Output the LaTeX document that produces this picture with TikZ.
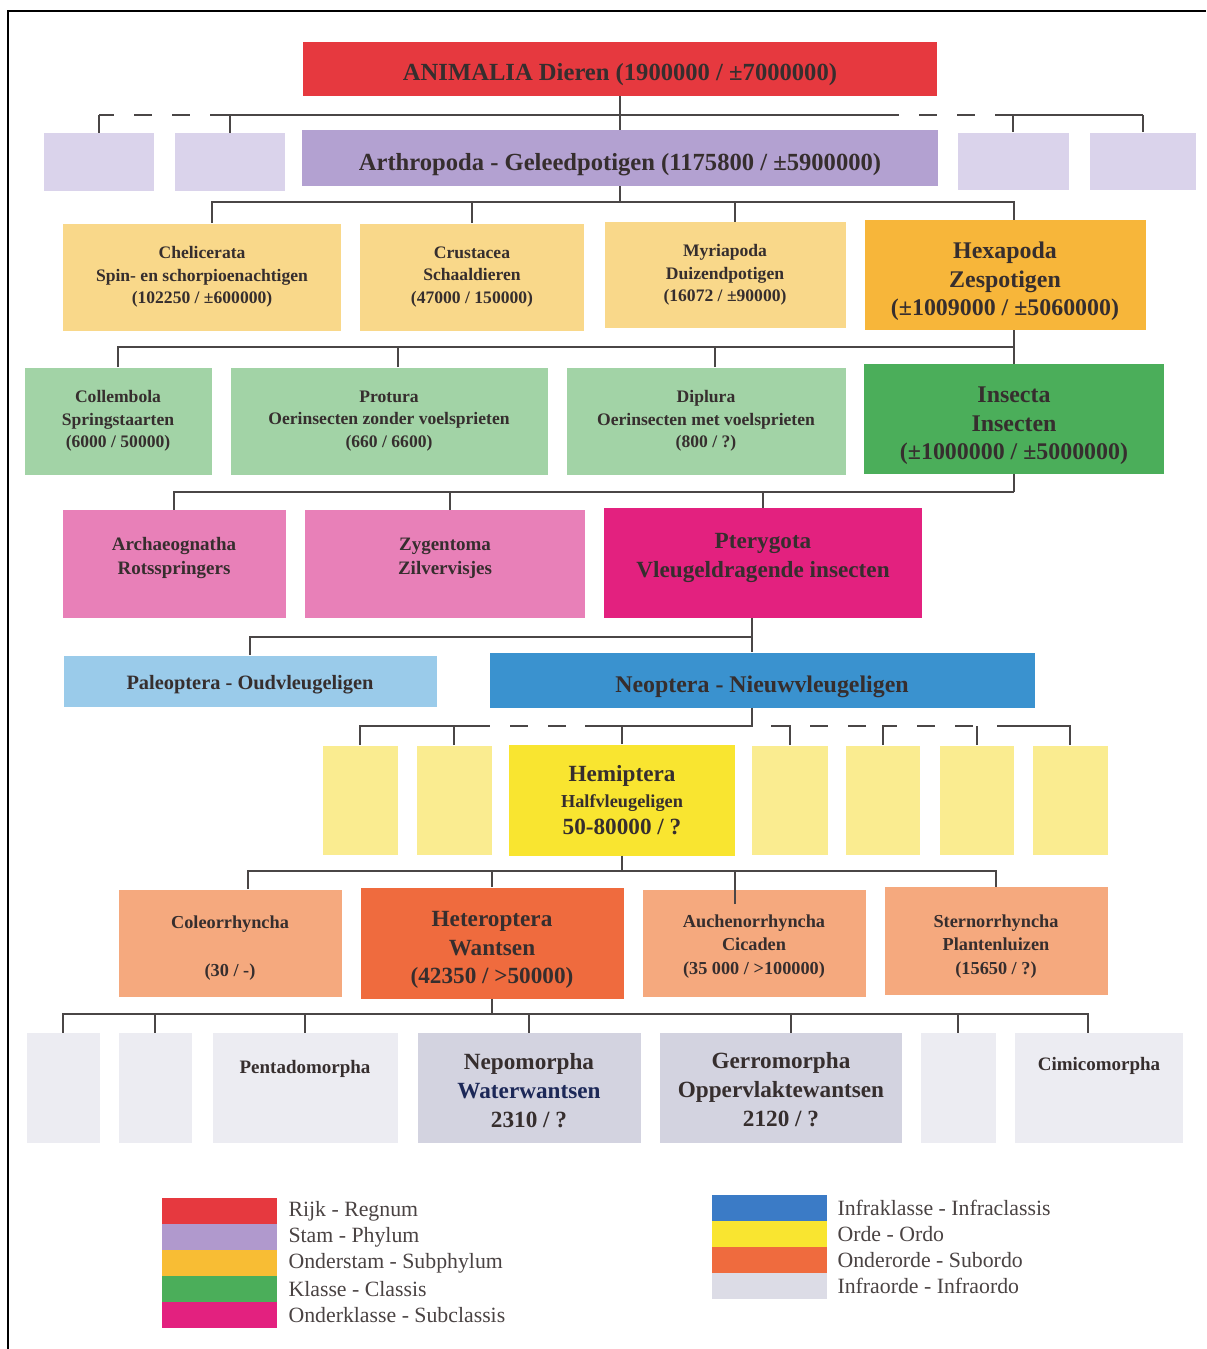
\documentclass[tikz,border=0pt]{standalone}
\usepackage{fontspec}
\setmainfont{Liberation Serif}
\usepackage{xcolor}
\usepackage{tikz}
\usetikzlibrary{positioning, calc}

\definecolor{ink}{HTML}{362E2E}
\definecolor{navy}{HTML}{1C2858}
\definecolor{wire}{HTML}{4A4646}
\definecolor{regnum}{HTML}{E6393F}
\definecolor{phylum}{HTML}{B3A1D1}
\definecolor{phylumL}{HTML}{DAD3EB}
\definecolor{subphylum}{HTML}{F7B63A}
\definecolor{subphylumL}{HTML}{F9D88A}
\definecolor{classis}{HTML}{4BAE5A}
\definecolor{classisL}{HTML}{A2D3A6}
\definecolor{subclassis}{HTML}{E3217F}
\definecolor{subclassisL}{HTML}{E880B8}
\definecolor{infraclassis}{HTML}{3A92CF}
\definecolor{infraclassisL}{HTML}{9ACBEA}
\definecolor{legblue}{HTML}{3B7BC6}
\definecolor{ordo}{HTML}{F9E530}
\definecolor{ordoL}{HTML}{FAEC90}
\definecolor{subordo}{HTML}{EF6B3E}
\definecolor{subordoL}{HTML}{F5A97E}
\definecolor{infraordo}{HTML}{D3D3E0}
\definecolor{infraordoL}{HTML}{ECECF2}

\newcommand{\fs}[2]{\fontsize{#1pt}{#2pt}\selectfont\bfseries}

\begin{document}
\begin{tikzpicture}[
  x=0.025cm, y=-0.025cm,
  taxon/.style={align=center, inner sep=0pt, text=ink},
  dims/.style 2 args={minimum width=#1*0.025cm, minimum height=#2*0.025cm},
  sink/.style={text height=#1, text depth=0pt},
  lift/.style={text depth=#1},
  small/.style={font=\fs{12.5}{16}},
  mid/.style={font=\fs{13.5}{17}},
  big/.style={font=\fs{17}{20.3}},
  link/.style={draw=wire, line width=1.4pt},
  broken/.style={dash pattern=on 0.45cm off 0.5cm, dash phase=0.45cm},
  swatch/.style={inner sep=0pt, dims={115}{26.6}},
  legtext/.style={inner sep=0pt, text=ink!90, font=\fontsize{15.5}{18}\selectfont},
]
  \useasboundingbox (0,0) rectangle (1206,1349);
  \fill[white] (0,0) rectangle (1206,1349);
  \draw[line width=1.4pt] (8,1349) -- (8,11) -- (1206,11);

  % regnum
  \node[taxon, sink=15.9pt, dims={634}{54}, fill=regnum, font=\fs{17.5}{21}] (animalia) at (620,69) {ANIMALIA Dieren (1900000 / ±7000000)};

  % phyla
  \node[taxon, dims={110}{58}, fill=phylumL] (ph1) at (99,162) {};
  \node[taxon, dims={110}{58}, fill=phylumL] (ph2) at (230,162) {};
  \node[taxon, sink=17.4pt, dims={636}{56}, fill=phylum, font=\fs{17.5}{20}] (arth) at (620,158) {Arthropoda - Geleedpotigen (1175800 / ±5900000)};
  \node[taxon, dims={111}{57}, fill=phylumL] (ph4) at (1013,161) {};
  \node[taxon, dims={106}{57}, fill=phylumL] (ph5) at (1143,161) {};

  % subphyla
  \node[taxon, small, dims={278}{107}, fill=subphylumL] (chel) at (202,277) {Chelicerata\\Spin- en schorpioenachtigen\\(102250 / ±600000)};
  \node[taxon, small, dims={224}{107}, fill=subphylumL] (crus) at (472,277) {Crustacea\\Schaaldieren\\(47000 / 150000)};
  \node[taxon, small, dims={241}{106}, fill=subphylumL] (myri) at (725,275) {Myriapoda\\Duizendpotigen\\(16072 / ±90000)};
  \node[taxon, big, sink=58.3pt, dims={281}{110}, fill=subphylum] (hexa) at (1005,275) {Hexapoda\\Zespotigen\\(±1009000 / ±5060000)};

  % classes
  \node[taxon, small, dims={187}{107}, fill=classisL] (coll) at (118,421) {Collembola\\Springstaarten\\(6000 / 50000)};
  \node[taxon, small, dims={317}{107}, fill=classisL] (prot) at (389,421) {Protura\\Oerinsecten zonder voelsprieten\\(660 / 6600)};
  \node[taxon, small, dims={279}{107}, fill=classisL] (dipl) at (706,421) {Diplura\\Oerinsecten met voelsprieten\\(800 / ?)};
  \node[taxon, big, sink=58.3pt, dims={300}{110}, fill=classis] (insc) at (1014,419) {Insecta\\Insecten\\(±1000000 / ±5000000)};

  % subclasses
  \node[taxon, mid, lift=11.5pt, dims={223}{108}, fill=subclassisL] (arch) at (174,564) {Archaeognatha\\Rotsspringers};
  \node[taxon, mid, lift=11.5pt, dims={280}{108}, fill=subclassisL] (zyge) at (445,564) {Zygentoma\\Zilvervisjes};
  \node[taxon, lift=10.8pt, font=\fs{16.5}{20.6}, dims={318}{110}, fill=subclassis] (pter) at (763,563) {Pterygota\\Vleugeldragende insecten};

  % infraclasses
  \node[taxon, sink=12.4pt, font=\fs{14.5}{17}, dims={373}{51}, fill=infraclassisL] (pale) at (250,681) {Paleoptera - Oudvleugeligen};
  \node[taxon, sink=17.1pt, font=\fs{17}{20}, dims={545}{55}, fill=infraclassis] (neop) at (762,680) {Neoptera - Nieuwvleugeligen};

  % orders
  \node[taxon, dims={75}{109}, fill=ordoL] (o1) at (360,800) {};
  \node[taxon, dims={75}{109}, fill=ordoL] (o2) at (454,800) {};
  \node[taxon, font=\fs{16.5}{18.9}, dims={226}{111}, fill=ordo] (hemi) at (622,800) {Hemiptera\\{\fs{13}{18.9}Halfvleugeligen}\\50-80000 / ?};
  \node[taxon, dims={76}{109}, fill=ordoL] (o3) at (790,800) {};
  \node[taxon, dims={74}{109}, fill=ordoL] (o4) at (883,800) {};
  \node[taxon, dims={74}{109}, fill=ordoL] (o5) at (977,800) {};
  \node[taxon, dims={75}{109}, fill=ordoL] (o6) at (1070,800) {};

  % suborders
  \node[taxon, sink=47pt, font=\fs{13}{17}, dims={223}{107}, fill=subordoL] (cole) at (230,943) {Coleorrhyncha\\~\\(30 / -)};
  \node[taxon, sink=57.9pt, font=\fs{16.5}{20.3}, dims={263}{111}, fill=subordo] (hete) at (492,943) {Heteroptera\\Wantsen\\(42350 / >50000)};
  \node[taxon, sink=44.1pt, font=\fs{13}{16.7}, dims={223}{107}, fill=subordoL] (auch) at (754,943) {Auchenorrhyncha\\Cicaden\\(35 000 / >100000)};
  \node[taxon, sink=47pt, font=\fs{13}{16.7}, dims={223}{108}, fill=subordoL] (ster) at (996,941) {Sternorrhyncha\\Plantenluizen\\(15650 / ?)};

  % infraorders
  \node[taxon, dims={73}{110}, fill=infraordoL] (i1) at (63,1088) {};
  \node[taxon, dims={73}{110}, fill=infraordoL] (i2) at (155,1088) {};
  \node[taxon, text height=0pt, lift=20.9pt, font=\fs{13.5}{17}, dims={185}{110}, fill=infraordoL] (pent) at (305,1088) {Pentadomorpha};
  \node[taxon, sink=56.5pt, font=\fs{16.5}{20.6}, dims={223}{110}, fill=infraordo] (nepo) at (529,1088) {Nepomorpha\\{\color{navy}Waterwantsen}\\2310 / ?};
  \node[taxon, sink=55pt, font=\fs{16.5}{20.6}, dims={242}{110}, fill=infraordo] (gerr) at (781,1088) {Gerromorpha\\Oppervlaktewantsen\\2120 / ?};
  \node[taxon, dims={75}{110}, fill=infraordoL] (i3) at (958,1088) {};
  \node[taxon, text height=0pt, lift=25.2pt, font=\fs{13.5}{17}, dims={168}{110}, fill=infraordoL] (cimi) at (1099,1088) {Cimicomorpha};

  % tree lines
  \coordinate (abus) at (620,115);
  \coordinate (abusL) at (210,115);
  \coordinate (abusR) at (899,115);
  \coordinate (abusR2) at (996,115);
  \draw[link] (animalia) -- (abus);
  \draw[link, broken] (abusL) -- (abus -| ph1.north);
  \draw[link] (abusL) -- (abusR);
  \draw[link, broken] (abusR) -- (abusR2);
  \draw[link] (abusR2) -- (abus -| ph5.north);
  \draw[link] (ph1.north) -- (abus -| ph1.north) (ph2.north) -- (abus -| ph2.north)
    (arth.north) -- (abus) (ph4.north) -- (abus -| ph4.north) (ph5.north) -- (abus -| ph5.north);

  \coordinate (pbus) at (620,202);
  \draw[link] (arth) -- (pbus);
  \draw[link] ([xshift=0.25cm]chel.north) |- (pbus) (crus.north) |- (pbus)
    ([xshift=0.25cm]myri.north) |- (pbus) ([xshift=0.225cm]hexa.north) |- (pbus);

  \coordinate (hbus) at (1014,347);
  \draw[link] (hbus |- hexa.south) -- (hbus);
  \draw[link] (coll.north) |- (hbus) ([xshift=0.225cm]prot.north) |- (hbus)
    ([xshift=0.225cm]dipl.north) |- (hbus) (insc.north) -- (hbus);

  \coordinate (ibus) at (1014,492);
  \draw[link] (insc) -- (ibus);
  \draw[link] (arch.north) |- (ibus) ([xshift=0.125cm]zyge.north) |- (ibus) (pter.north) |- (ibus);

  \coordinate (tbus) at (752,637);
  \draw[link] (tbus |- pter.south) -- (tbus) -- (tbus |- neop.north);
  \draw[link] (pale.north) |- (tbus);

  \coordinate (nbus) at (752,726);
  \coordinate (nL1) at (490,726);
  \coordinate (nL2) at (585,726);
  \coordinate (nR0) at (771,726);
  \coordinate (nR1) at (897,726);
  \coordinate (nR2) at (997,726);
  \draw[link] (nbus |- neop.south) -- (nbus) -- (nL2);
  \draw[link, broken] (nL1) -- (nL2);
  \draw[link] (o1.north) |- (nL1) (o2.north) |- (nL1) (hemi.north) |- (nbus);
  \draw[link] (o3.north) |- (nR0);
  \draw[link, broken] (nbus -| o3.north) -- (nbus -| o4.north);
  \draw[link] (o4.north) |- (nR1);
  \draw[link, broken] (nR1) -- (nbus -| o5.north);
  \draw[link] (o5.north) -- (nbus -| o5.north);
  \draw[link] (o6.north) |- (nR2);

  \coordinate (obus) at (622,871);
  \draw[link] (hemi) -- (obus);
  \draw[link] ([xshift=0.45cm]cole.north) |- (obus) (hete.north) |- (obus)
    ([xshift=-0.475cm, yshift=-0.375cm]auch.north) |- (obus) (ster.north) |- (obus);

  \coordinate (sbus) at (492,1014);
  \draw[link] (hete) -- (sbus);
  \draw[link] (i1.north) |- (sbus) (i2.north) |- (sbus) (pent.north) |- (sbus) (nepo.north) |- (sbus)
    ([xshift=0.25cm]gerr.north) |- (sbus) (i3.north) |- (sbus) ([xshift=-0.275cm]cimi.north) |- (sbus);

  % legend
  \node[swatch, fill=regnum] (lg1) at (219.5,1211) {};
  \node[swatch, fill=phylum!95!violet] (lg2) at (219.5,1237) {};
  \node[swatch, fill=subphylum!90!yellow] (lg3) at (219.5,1263) {};
  \node[swatch, fill=classis] (lg4) at (219.5,1289) {};
  \node[swatch, fill=subclassis] (lg5) at (219.5,1315) {};
  \node[legtext, right=0.275cm of lg1] (lt1) {Rijk - Regnum};
  \node[legtext, right=0.275cm of lg2] (lt2) {Stam - Phylum};
  \node[legtext, right=0.275cm of lg3] (lt3) {Onderstam - Subphylum};
  \node[legtext, right=0.275cm of lg4] (lt4) {Klasse - Classis};
  \node[legtext, right=0.275cm of lg5] (lt5) {Onderklasse - Subclassis};

  \node[swatch, fill=legblue] (lg6) at (769.5,1208) {};
  \node[swatch, fill=ordo] (lg7) at (769.5,1234) {};
  \node[swatch, fill=subordo] (lg8) at (769.5,1260) {};
  \node[swatch, fill=infraordo!80!white] (lg9) at (769.5,1286) {};
  \node[legtext, right=0.25cm of lg6] (lt6) {Infraklasse - Infraclassis};
  \node[legtext, right=0.25cm of lg7] (lt7) {Orde - Ordo};
  \node[legtext, right=0.25cm of lg8] (lt8) {Onderorde - Subordo};
  \node[legtext, right=0.25cm of lg9] (lt9) {Infraorde - Infraordo};
\end{tikzpicture}
\end{document}
